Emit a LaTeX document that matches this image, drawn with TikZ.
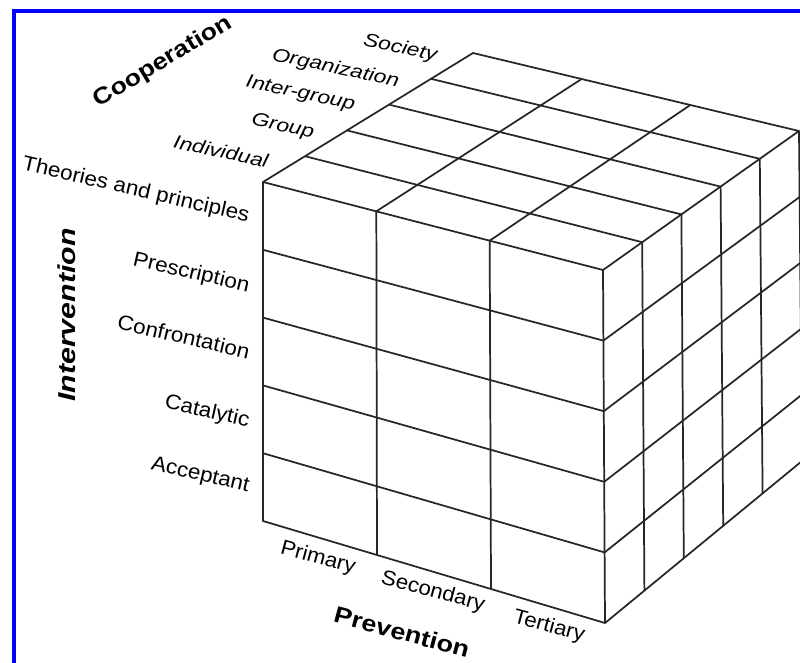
\documentclass[tikz,border=0pt]{standalone}
\usepackage{fontspec}
\setmainfont{Liberation Sans}
\usetikzlibrary{calc}
\tikzset{
  cube/.style={line width=1.3pt, draw=black!85, line join=round},
  frame/.style={line width=3pt, draw=blue},
  rowlbl/.style={font=\fontsize{15.6}{18}\selectfont, anchor=base east, rotate=-13, xscale=1.08, inner sep=0pt},
  collbl/.style={font=\fontsize{15.6}{18}\selectfont, anchor=center, rotate=-15, xscale=1.07, inner sep=0pt},
  deplbl/.style={font=\itshape\fontsize{14}{17}\selectfont, anchor=base east, rotate=-12, xscale=1.22, inner sep=0pt},
  axislbl/.style={font=\bfseries\fontsize{17.25}{20}\selectfont, anchor=center, inner sep=0pt}
}
\begin{document}
\begin{tikzpicture}[x=0.75pt,y=-0.75pt]
\useasboundingbox (0,0) rectangle (800,662);
\clip (0,0) rectangle (800,662);
\fill[white] (0,0) rectangle (800,662);
\draw[frame] (14,680) -- (14,11) -- (820,11);
% cube corners
\coordinate (FTL) at (263,182);
\coordinate (FTR) at (603,270);
\coordinate (FBL) at (263,521);
\coordinate (FBR) at (605,623);
\coordinate (BTL) at (473,53);
\coordinate (BTR) at (799,131);
\coordinate (BBR) at (802,461);
% front face
\draw[cube] (FTL) -- (FTR) -- (FBR) -- (FBL) -- cycle;
\foreach \t in {0.2,0.4,0.6,0.8}
  \draw[cube] ($(FTL)!\t!(FBL)$) -- ($(FTR)!\t!(FBR)$);
\foreach \t in {0.3333,0.6667}
  \draw[cube] ($(FTL)!\t!(FTR)$) -- ($(FBL)!\t!(FBR)$);
% top face
\draw[cube] (FTL) -- (BTL) -- (BTR) -- (FTR);
\foreach \t in {0.2,0.4,0.6,0.8}
  \draw[cube] ($(FTL)!\t!(BTL)$) -- ($(FTR)!\t!(BTR)$);
\foreach \t in {0.3333,0.6667}
  \draw[cube] ($(FTL)!\t!(FTR)$) -- ($(BTL)!\t!(BTR)$);
% right face
\draw[cube] (BTR) -- (BBR) -- (FBR);
\foreach \t in {0.2,0.4,0.6,0.8}
  \draw[cube] ($(FTR)!\t!(FBR)$) -- ($(BTR)!\t!(BBR)$);
\foreach \t in {0.2,0.4,0.6,0.8}
  \draw[cube] ($(FTR)!\t!(BTR)$) -- ($(FBR)!\t!(BBR)$);
% row labels
\node[rowlbl] (r1) at (248,222) {Theories and principles};
\node[rowlbl] (r2) at (248,292) {Prescription};
\node[rowlbl] (r3) at (248,359) {Confrontation};
\node[rowlbl] (r4) at (248,427) {Catalytic};
\node[rowlbl] (r5) at (248,492) {Acceptant};
% column labels
\node[collbl] (c1) at (318,558) {Primary};
\node[collbl] (c2) at (433,592) {Secondary};
\node[collbl] (c3) at (549,627) {Tertiary};
% depth labels
\node[deplbl] (d1) at (267,168) {Individual};
\node[deplbl] (d2) at (313,138) {Group};
\node[deplbl] (d3) at (354,110) {Inter-group};
\node[deplbl] (d4) at (398,87) {Organization};
\node[deplbl] (d5) at (436,61) {Society};
% axis labels
\node[axislbl, rotate=31, xscale=1.16] (ax1) at (163,62) {Cooperation};
\node[axislbl, rotate=90, xscale=1.24, font=\bfseries\itshape\fontsize{18.3}{21}\selectfont] (ax2) at (67,315) {Intervention};
\node[axislbl, rotate=-15, xscale=1.17] (ax3) at (402,632) {Prevention};
\end{tikzpicture}
\end{document}
